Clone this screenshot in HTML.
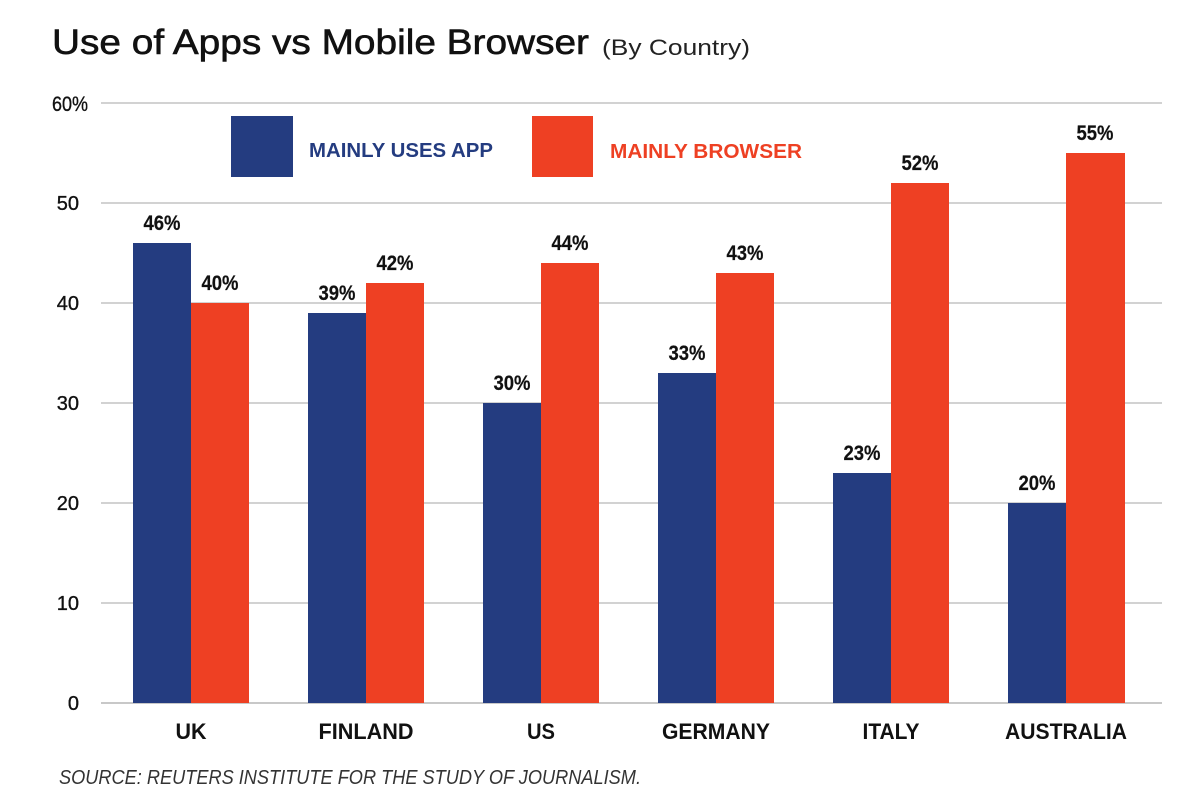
<!DOCTYPE html>
<html>
<head>
<meta charset="utf-8">
<style>
  html, body { margin: 0; padding: 0; background: #ffffff; }
  svg { display: block; }
  text { font-family: "Liberation Sans", sans-serif; }
</style>
</head>
<body>
<svg width="1200" height="810" viewBox="0 0 1200 810" xmlns="http://www.w3.org/2000/svg">
  <rect x="0" y="0" width="1200" height="810" fill="#ffffff"/>

  <!-- Title -->
  <text x="52" y="54" font-size="35" fill="#111111" stroke="#111111" stroke-width="0.6" textLength="537" lengthAdjust="spacingAndGlyphs">Use of Apps vs Mobile Browser</text>
  <text x="602" y="55" font-size="22" fill="#222222" textLength="148" lengthAdjust="spacingAndGlyphs">(By Country)</text>

  <!-- Gridlines -->
  <g stroke="#c4c4c4" stroke-width="1.5">
    <line x1="101" y1="103" x2="1162" y2="103"/>
    <line x1="101" y1="203" x2="1162" y2="203"/>
    <line x1="101" y1="303" x2="1162" y2="303"/>
    <line x1="101" y1="403" x2="1162" y2="403"/>
    <line x1="101" y1="503" x2="1162" y2="503"/>
    <line x1="101" y1="603" x2="1162" y2="603"/>
  </g>
  <line x1="101" y1="703" x2="1162" y2="703" stroke="#c8c8c8" stroke-width="2"/>

  <!-- Y axis labels -->
  <g font-size="20" fill="#111111" stroke="#111111" stroke-width="0.35">
    <text x="52" y="111" font-size="21" textLength="36" lengthAdjust="spacingAndGlyphs">60%</text>
    <text x="79" y="210" text-anchor="end">50</text>
    <text x="79" y="310" text-anchor="end">40</text>
    <text x="79" y="410" text-anchor="end">30</text>
    <text x="79" y="510" text-anchor="end">20</text>
    <text x="79" y="610" text-anchor="end">10</text>
    <text x="79" y="710" text-anchor="end">0</text>
  </g>

  <!-- Legend -->
  <rect x="231" y="116" width="62" height="61" fill="#243c80"/>
  <text x="309" y="157" font-size="20" font-weight="bold" fill="#243c80" textLength="184" lengthAdjust="spacingAndGlyphs">MAINLY USES APP</text>
  <rect x="532" y="116" width="61" height="61" fill="#ee4023"/>
  <text x="610" y="158" font-size="20" font-weight="bold" fill="#ee4023" textLength="192" lengthAdjust="spacingAndGlyphs">MAINLY BROWSER</text>

  <!-- Bars: blue -->
  <g fill="#243c80">
    <rect x="133" y="243" width="58" height="460"/>
    <rect x="308" y="313" width="58" height="390"/>
    <rect x="483" y="403" width="58" height="300"/>
    <rect x="658" y="373" width="58" height="330"/>
    <rect x="833" y="473" width="58" height="230"/>
    <rect x="1008" y="503" width="58" height="200"/>
  </g>
  <!-- Bars: red -->
  <g fill="#ee4023">
    <rect x="191" y="303" width="58" height="400"/>
    <rect x="366" y="283" width="58" height="420"/>
    <rect x="541" y="263" width="58" height="440"/>
    <rect x="716" y="273" width="58" height="430"/>
    <rect x="891" y="183" width="58" height="520"/>
    <rect x="1066" y="153" width="59" height="550"/>
  </g>

  <!-- Value labels -->
  <g font-size="21" font-weight="bold" fill="#111111" stroke="#111111" stroke-width="0.2" text-anchor="middle">
    <text x="162" y="230" textLength="37" lengthAdjust="spacingAndGlyphs">46%</text>
    <text x="220" y="290" textLength="37" lengthAdjust="spacingAndGlyphs">40%</text>
    <text x="337" y="300" textLength="37" lengthAdjust="spacingAndGlyphs">39%</text>
    <text x="395" y="270" textLength="37" lengthAdjust="spacingAndGlyphs">42%</text>
    <text x="512" y="390" textLength="37" lengthAdjust="spacingAndGlyphs">30%</text>
    <text x="570" y="250" textLength="37" lengthAdjust="spacingAndGlyphs">44%</text>
    <text x="687" y="360" textLength="37" lengthAdjust="spacingAndGlyphs">33%</text>
    <text x="745" y="260" textLength="37" lengthAdjust="spacingAndGlyphs">43%</text>
    <text x="862" y="460" textLength="37" lengthAdjust="spacingAndGlyphs">23%</text>
    <text x="920" y="170" textLength="37" lengthAdjust="spacingAndGlyphs">52%</text>
    <text x="1037" y="490" textLength="37" lengthAdjust="spacingAndGlyphs">20%</text>
    <text x="1095" y="140" textLength="37" lengthAdjust="spacingAndGlyphs">55%</text>
  </g>

  <!-- Category labels -->
  <g font-size="22" font-weight="bold" fill="#111111" text-anchor="middle">
    <text x="191" y="739" textLength="31" lengthAdjust="spacingAndGlyphs">UK</text>
    <text x="366" y="739" textLength="95" lengthAdjust="spacingAndGlyphs">FINLAND</text>
    <text x="541" y="739" textLength="28" lengthAdjust="spacingAndGlyphs">US</text>
    <text x="716" y="739" textLength="108" lengthAdjust="spacingAndGlyphs">GERMANY</text>
    <text x="891" y="739" textLength="57" lengthAdjust="spacingAndGlyphs">ITALY</text>
    <text x="1066" y="739" textLength="122" lengthAdjust="spacingAndGlyphs">AUSTRALIA</text>
  </g>

  <!-- Source -->
  <text x="59" y="784" font-size="20" font-style="italic" fill="#333333" textLength="582" lengthAdjust="spacingAndGlyphs">SOURCE: REUTERS INSTITUTE FOR THE STUDY OF JOURNALISM.</text>
</svg>
</body>
</html>
